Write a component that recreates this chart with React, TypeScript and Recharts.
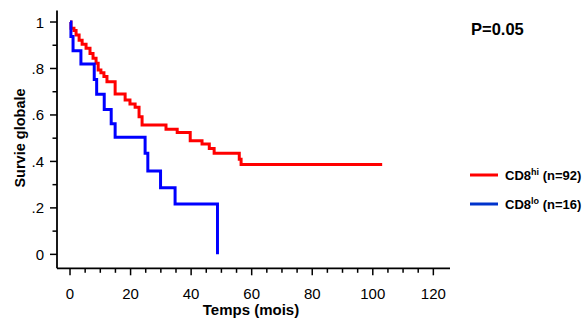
import React from "react";
import { LineChart, Line, XAxis, YAxis, Customized } from "recharts";

// Kaplan-Meier survival curves (time in months, survival fraction)
const hiTimes = [0, 0.33, 1.3, 2.0, 3.0, 4.0, 5.3, 6.6, 7.6, 8.6, 9.3, 10.2, 11.2, 12.2, 14.9, 18.2, 19.8, 21.5, 22.8, 23.8, 31.7, 35.4, 39.7, 43.6, 46.0, 47.6, 55.9, 56.5, 103.1];
const hiSurv = [1, 0.973, 0.963, 0.944, 0.922, 0.904, 0.887, 0.865, 0.844, 0.822, 0.793, 0.782, 0.765, 0.743, 0.69, 0.664, 0.647, 0.633, 0.592, 0.557, 0.538, 0.525, 0.489, 0.475, 0.456, 0.435, 0.409, 0.387, 0.387];

const loTimes = [0, 0.3, 1.0, 3.6, 8.0, 8.8, 11.3, 13.6, 14.9, 24.8, 25.7, 29.9, 34.7, 48.7];
const loSurv = [1, 0.9375, 0.876, 0.819, 0.753, 0.689, 0.624, 0.5625, 0.504, 0.435, 0.359, 0.287, 0.217, 0];

const xTicks = [0, 5, 10, 15, 20, 25, 30, 35, 40, 45, 50, 55, 60, 65, 70, 75, 80, 85, 90, 95, 100, 105, 110, 115, 120];
const yTicks = [0, 0.1, 0.2, 0.3, 0.4, 0.5, 0.6, 0.7, 0.8, 0.9, 1];

const seriesNames = ["CD8", "CD8"];
const seriesSup = ["hi", "lo"];
const seriesN = [" (n=92)", " (n=16)"];
const pValueText = "P=0.05";
const xLabel = "Temps (mois)";
const yLabel = "Survie globale";

const hiData = hiTimes.map((t, i) => ({ t, s: hiSurv[i] }));
const loData = loTimes.map((t, i) => ({ t, s: loSurv[i] }));

const FONT = "'Liberation Sans', Arial, sans-serif";

const XTick = (props: any) => {
  const { x, y, payload } = props;
  const v = payload.value;
  const major = v % 20 === 0;
  return (
    <g>
      <line x1={x} x2={x} y1={y} y2={y + (major ? 7 : 4.5)} stroke="#000" strokeWidth={1.5} />
      {major && (
        <text x={x} y={y + 31} textAnchor="middle" fontSize={15} fontFamily={FONT} fill="#000">
          {v}
        </text>
      )}
    </g>
  );
};

const YTick = (props: any) => {
  const { x, y, payload } = props;
  const v = payload.value;
  const k = Math.round(v * 10);
  const major = k % 2 === 0;
  const label = k === 0 ? "0" : k === 10 ? "1" : "." + k;
  return (
    <g>
      <line x1={x} x2={x - (major ? 7 : 4.5)} y1={y} y2={y} stroke="#000" strokeWidth={1.5} />
      {major && (
        <text x={x - 13} y={y + 5.5} textAnchor="end" fontSize={15} fontFamily={FONT} fill="#000">
          {label}
        </text>
      )}
    </g>
  );
};

const Extras = () => {
  const colors = ["#ff0000", "#0033cc"];
  const ys = [175, 204];
  return (
    <g fontFamily={FONT} fontWeight="bold" fill="#000">
      <text x={25} y={138} transform="rotate(-90 25 138)" textAnchor="middle" fontSize={14.5}>
        {yLabel}
      </text>
      <text x={251} y={315} textAnchor="middle" fontSize={15}>
        {xLabel}
      </text>
      <text x={471} y={35} fontSize={16.5}>
        {pValueText}
      </text>
      {ys.map((yy, i) => (
        <g key={i}>
          <line x1={470} x2={498} y1={yy} y2={yy} stroke={colors[i]} strokeWidth={3} />
          <text x={505} y={yy + 5} fontSize={13}>
            <tspan>{seriesNames[i]}</tspan>
            <tspan dy={-5} fontSize={9}>{seriesSup[i]}</tspan>
            <tspan dy={5}>{seriesN[i]}</tspan>
          </text>
        </g>
      ))}
    </g>
  );
};

export default function App() {
  return (
    <div style={{ position: "absolute", left: 0, top: 0, width: 587, height: 323, background: "#fff", overflow: "hidden" }}>
      <LineChart
        width={587}
        height={323}
        margin={{ top: 10.4, right: 137, bottom: 0, left: 0 }}
        style={{ fontFamily: FONT }}
      >
        <XAxis
          type="number"
          dataKey="t"
          domain={[-4.3, 125.5]}
          ticks={xTicks}
          interval={0}
          allowDataOverflow
          height={54.7}
          tickSize={0}
          tickMargin={0}
          tickLine={false}
          axisLine={{ stroke: "#000", strokeWidth: 1.8 }}
          tick={<XTick />}
        />
        <YAxis
          type="number"
          dataKey="s"
          domain={[-0.06, 1.05]}
          ticks={yTicks}
          interval={0}
          allowDataOverflow
          width={57}
          tickSize={0}
          tickMargin={0}
          tickLine={false}
          axisLine={{ stroke: "#000", strokeWidth: 1.8 }}
          tick={<YTick />}
        />
        <Line
          data={hiData}
          dataKey="s"
          type="stepAfter"
          stroke="#ff0000"
          strokeWidth={3}
          dot={false}
          activeDot={false}
          isAnimationActive={false}
          strokeLinejoin="miter"
        />
        <Line
          data={loData}
          dataKey="s"
          type="stepAfter"
          stroke="#0000ff"
          strokeWidth={3}
          dot={false}
          activeDot={false}
          isAnimationActive={false}
          strokeLinejoin="miter"
        />
        <Customized component={Extras} />
      </LineChart>
    </div>
  );
}
